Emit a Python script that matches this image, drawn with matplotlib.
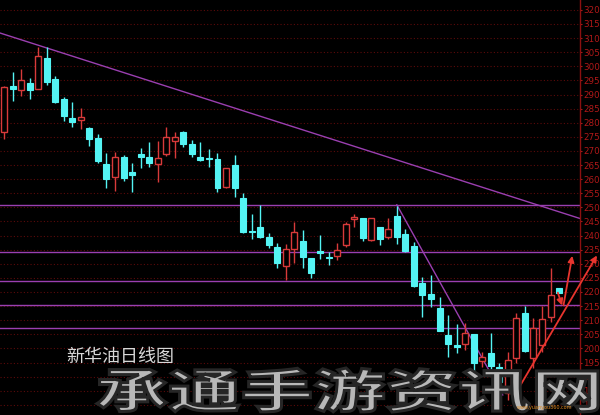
import matplotlib
matplotlib.use("Agg")
import matplotlib.pyplot as plt
from matplotlib.textpath import TextPath
from matplotlib.patches import PathPatch
from matplotlib.font_manager import FontProperties
from matplotlib.transforms import Affine2D
import numpy as np

# daily OHLC
opens = [276.7, 293.0, 291.6, 294.1, 292.0, 303.0, 295.5, 288.4, 281.7, 281.0,
         278.2, 274.6, 265.4, 260.8, 267.9, 262.6, 268.9, 267.9, 265.4, 268.9,
         273.5, 276.7, 272.5, 267.9, 267.5, 267.2, 257.2, 265.0, 253.3, 241.6,
         243.1, 239.5, 236.0, 229.2, 235.3, 238.1, 232.1, 234.5, 232.4, 232.8,
         236.7, 245.9, 246.2, 238.4, 243.1, 239.5, 247.0, 240.6, 236.3, 223.2,
         219.3, 214.3, 204.8, 201.2, 201.6, 205.1, 195.5, 198.4, 193.4, 184.2,
         196.6, 212.6, 196.6, 201.2, 211.1, 221.4]
highs = [293.0, 298.0, 299.1, 295.9, 306.9, 306.9, 296.6, 289.1, 287.4, 285.2,
         278.5, 276.0, 269.3, 269.6, 268.6, 265.8, 271.1, 273.2, 273.5, 278.5,
         276.7, 276.9, 273.9, 273.2, 270.7, 269.3, 264.0, 268.6, 255.1, 247.7,
         250.9, 240.9, 237.4, 237.0, 244.8, 242.0, 232.1, 240.2, 234.2, 237.4,
         244.8, 247.7, 246.2, 246.2, 243.1, 246.2, 250.5, 242.3, 237.7, 225.3,
         226.0, 218.2, 211.8, 208.7, 209.0, 205.1, 198.7, 205.5, 194.8, 198.7,
         212.6, 215.0, 210.8, 215.0, 228.5, 221.4]
lows = [274.3, 287.7, 289.5, 288.4, 291.8, 293.4, 287.0, 280.6, 278.5, 277.8,
        271.8, 265.8, 256.9, 255.8, 259.4, 255.5, 264.0, 264.3, 259.0, 268.2,
        267.5, 271.4, 267.9, 266.5, 264.3, 255.5, 256.9, 253.7, 240.9, 238.8,
        239.2, 235.6, 228.5, 224.3, 230.3, 228.5, 225.0, 231.7, 229.6, 231.4,
        236.0, 243.1, 238.1, 238.1, 236.7, 238.8, 237.0, 234.2, 221.8, 211.1,
        214.7, 206.0, 197.0, 198.4, 199.4, 192.0, 193.4, 192.3, 186.3, 181.7,
        194.8, 198.7, 193.1, 198.7, 209.4, 219.6]
closes = [292.7, 292.0, 295.2, 291.6, 303.7, 294.5, 287.4, 282.4, 280.3, 282.1,
          274.3, 266.5, 260.1, 267.9, 260.4, 261.5, 267.9, 265.8, 267.5, 275.0,
          275.0, 272.5, 268.9, 266.8, 267.2, 256.9, 264.0, 256.9, 241.3, 241.3,
          239.5, 236.7, 230.3, 235.3, 241.3, 232.4, 226.7, 233.8, 232.2, 234.9,
          244.1, 246.6, 239.2, 246.2, 238.8, 242.3, 239.5, 234.5, 222.1, 218.9,
          217.5, 206.2, 201.6, 200.5, 205.5, 194.8, 197.0, 193.8, 188.1, 195.9,
          210.8, 199.1, 207.2, 210.4, 218.9, 219.6]

levels = [250.8, 234.3, 224.0, 215.4, 207.4]
tick_prices = list(range(180, 325, 5))

UP = "#d83a3a"
DOWN = "#54f4f4"
PURPLE = "#9a3fb0"
ARROW = "#e8352e"
CJK = ["Noto Sans CJK SC", "DejaVu Sans"]

fig = plt.figure(figsize=(6, 4.15), dpi=100, facecolor="black")
ax = fig.add_axes([0, 0, 580 / 600, 1])
ax.set_facecolor("black")

x = np.arange(len(opens))
o = np.array(opens)
c = np.array(closes)
h = np.array(highs)
l = np.array(lows)
up = c >= o
top = np.maximum(o, c)
bot = np.minimum(o, c)

# dotted price grid
for p in tick_prices + [325]:
    ax.axhline(p, color="#5c0a0a", lw=0.8, ls=(0, (1, 2)), zorder=0)

for lv in levels:
    ax.axhline(lv, color=PURPLE, lw=1.0, zorder=1)

# wicks
ax.vlines(x[up], top[up], h[up], color=UP, lw=1, zorder=2)
ax.vlines(x[up], l[up], bot[up], color=UP, lw=1, zorder=2)
ax.vlines(x[~up], l[~up], h[~up], color=DOWN, lw=1, zorder=2)

# bodies
w = 0.7
ax.bar(x[up], np.maximum(top[up] - bot[up], 0.3), w, bottom=bot[up],
       facecolor="black", edgecolor=UP, lw=1, zorder=3)
ax.bar(x[~up], np.maximum(top[~up] - bot[~up], 0.3), w, bottom=bot[~up],
       facecolor=DOWN, edgecolor=DOWN, lw=0.8, zorder=3)

# trend lines
ax.plot([-0.47, 67.5], [311.8, 246.0], color=PURPLE, lw=1.0, zorder=1)
ax.plot([46, 58.4], [250.9, 183.5], color=PURPLE, lw=1.0, zorder=1)

# red arrows
akw = dict(arrowstyle="-|>", color=ARROW, lw=1.3, mutation_scale=9)
ax.annotate("", xy=(69.6, 233.8), xytext=(59.8, 183.5), arrowprops=akw,
            annotation_clip=False, zorder=5)
ax.annotate("", xy=(65.46, 214.3), xytext=(64.75, 220.7), arrowprops=akw,
            annotation_clip=False, zorder=5)
ax.annotate("", xy=(66.6, 233.8), xytext=(65.46, 214.3), arrowprops=akw,
            annotation_clip=False, zorder=5)

ax.set_xlim(-0.47, 67.45)
ax.set_ylim(176.4, 323.5)

ax.yaxis.tick_right()
ax.set_yticks(tick_prices)
ax.set_yticklabels([str(p) for p in tick_prices])
ax.tick_params(axis="y", colors="#b01818", labelsize=6.3, length=1.5, pad=1)
ax.set_xticks([])
for s in ["top", "left", "bottom"]:
    ax.spines[s].set_visible(False)
ax.spines["right"].set_color("#8b1010")
ax.spines["right"].set_linewidth(1)

ax.text(66 / 580, 1 - 357 / 415, "新华油日线图", transform=ax.transAxes,
        color="#d8d8d8", fontsize=13, va="center", family=CJK, zorder=6)

# watermark, stretched to fill its box at the bottom
wm = TextPath((0, 0), "承通手游资讯网", size=1,
              prop=FontProperties(family="Noto Sans CJK SC", weight="heavy"))
ext = wm.get_extents()
bx0, bx1, by0, by1 = 97, 598, 3, 47
sx = (bx1 - bx0) / ext.width
sy = (by1 - by0) / ext.height
tr = Affine2D().translate(-ext.x0, -ext.y0).scale(sx, sy).translate(bx0, by0)
patch = PathPatch(wm, facecolor="#b8b8b8", edgecolor="#262626", lw=2.2,
                  transform=tr, zorder=10)
fig.patches.append(patch)
fig.text(545 / 600, 5 / 415, "www.yuanyou360.com", color="#e08a20",
         fontsize=3.5, ha="center", va="bottom", zorder=11)

fig.savefig("out.png", dpi=100, facecolor="black")
